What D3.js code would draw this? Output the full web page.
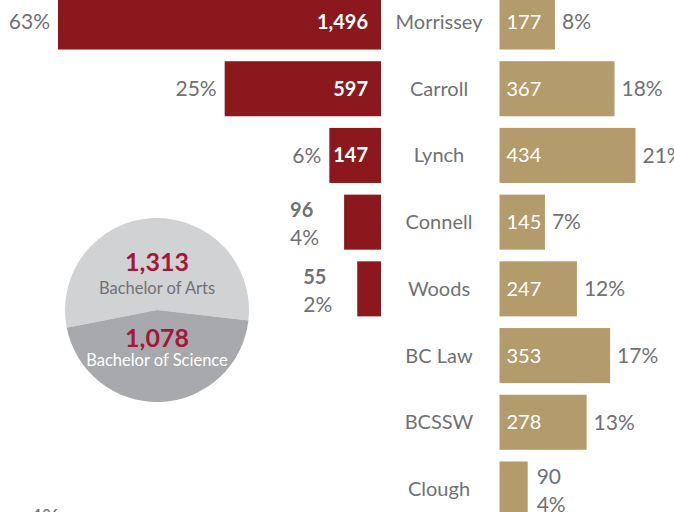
<!DOCTYPE html>
<html>
<head>
<meta charset="utf-8">
<script src="https://cdn.jsdelivr.net/npm/d3@7"></script>
<style>
  body { margin: 0; background: #fff; }
  svg { display: block; font-family: Lato, 'Open Sans', sans-serif; }
</style>
</head>
<body>
<div id="chart"></div>
<script>
// schools (gold bars, right side)
const schoolNames = ['Morrissey', 'Carroll', 'Lynch', 'Connell', 'Woods', 'BC Law', 'BCSSW', 'Clough']
const schoolCounts = [177, 367, 434, 145, 247, 353, 278, 90]
const schoolPcts = [8, 18, 21, 7, 12, 17, 13, 4]

// red bars (left side)
const leftCounts = [1496, 597, 147, 96, 55]
const leftPcts = [63, 25, 6, 4, 2]

// degree pie
const degreeNames = ['Bachelor of Arts', 'Bachelor of Science']
const degreeCounts = [1313, 1078]

const width = 674
const height = 512

const red = '#8b181c'
const gold = '#b39b6b'
const textGray = '#707174'
const crimson = '#a3183a'
const fmt = d3.format(',')

const svg = d3
  .select('#chart')
  .append('svg')
  .attr('width', width)
  .attr('height', height)

const yScale = d3
  .scaleBand()
  .domain(d3.range(schoolNames.length))
  .range([-5.5, 516.5])
  .paddingInner(0.175)
  .paddingOuter(0)

const bw = yScale.bandwidth()
const rowMid = i => yScale(i) + bw / 2

// left red bars, growing leftwards from a shared right edge
const redRight = 381
const redScale = d3.scalePow().exponent(0.79).domain([0, 1496]).range([0, 323])

const leftData = leftCounts.map((c, i) => ({ c, p: leftPcts[i], i }))

const leftG = svg.append('g')
leftG
  .selectAll('rect')
  .data(leftData)
  .join('rect')
  .attr('x', d => redRight - redScale(d.c))
  .attr('y', d => yScale(d.i))
  .attr('width', d => redScale(d.c))
  .attr('height', bw)
  .attr('fill', red)

leftData.forEach(d => {
  const x0 = redRight - redScale(d.c)
  const cy = rowMid(d.i)
  if (redScale(d.c) > 45) {
    leftG
      .append('text')
      .attr('x', redRight - 13)
      .attr('y', cy)
      .attr('dy', '0.35em')
      .attr('text-anchor', 'end')
      .attr('fill', '#fff')
      .attr('font-weight', 'bold')
      .attr('font-size', 20)
      .text(fmt(d.c))
    leftG
      .append('text')
      .attr('x', x0 - 8)
      .attr('y', cy)
      .attr('dy', '0.35em')
      .attr('text-anchor', 'end')
      .attr('fill', textGray)
      .attr('font-size', 21)
      .text(`${d.p}%`)
  } else {
    leftG
      .append('text')
      .attr('x', x0 - 54)
      .attr('y', cy - 12)
      .attr('dy', '0.35em')
      .attr('fill', textGray)
      .attr('font-weight', 'bold')
      .attr('font-size', 20)
      .text(fmt(d.c))
    leftG
      .append('text')
      .attr('x', x0 - 54)
      .attr('y', cy + 15.5)
      .attr('dy', '0.35em')
      .attr('fill', textGray)
      .attr('font-size', 21)
      .text(`${d.p}%`)
  }
})

// school names in the middle column
svg
  .append('g')
  .selectAll('text')
  .data(schoolNames)
  .join('text')
  .attr('x', 439)
  .attr('y', (d, i) => rowMid(i))
  .attr('dy', '0.35em')
  .attr('text-anchor', 'middle')
  .attr('fill', textGray)
  .attr('font-size', 20)
  .text(d => d)

// gold bars
const goldLeft = 499.5
const goldScale = d3.scaleLinear().domain([0, 434]).range([0, 136])
const schoolData = schoolCounts.map((c, i) => ({ c, p: schoolPcts[i], i }))

const rightG = svg.append('g')
rightG
  .selectAll('rect')
  .data(schoolData)
  .join('rect')
  .attr('x', goldLeft)
  .attr('y', d => yScale(d.i))
  .attr('width', d => goldScale(d.c))
  .attr('height', bw)
  .attr('fill', gold)

schoolData.forEach(d => {
  const x1 = goldLeft + goldScale(d.c)
  const cy = rowMid(d.i)
  if (goldScale(d.c) > 40) {
    rightG
      .append('text')
      .attr('x', goldLeft + 7)
      .attr('y', cy)
      .attr('dy', '0.35em')
      .attr('fill', '#fff')
      .attr('font-size', 20)
      .text(fmt(d.c))
    rightG
      .append('text')
      .attr('x', x1 + 7)
      .attr('y', cy)
      .attr('dy', '0.35em')
      .attr('fill', textGray)
      .attr('font-size', 21)
      .text(`${d.p}%`)
  } else {
    rightG
      .append('text')
      .attr('x', x1 + 9)
      .attr('y', cy - 12.5)
      .attr('dy', '0.35em')
      .attr('fill', textGray)
      .attr('font-size', 21)
      .text(fmt(d.c))
    rightG
      .append('text')
      .attr('x', x1 + 9)
      .attr('y', cy + 16)
      .attr('dy', '0.35em')
      .attr('fill', textGray)
      .attr('font-size', 21)
      .text(`${d.p}%`)
  }
})

// degree pie
const pieCx = 157
const pieCy = 310
const pieR = 92
const startA = (-101.2 * Math.PI) / 180
const pie = d3
  .pie()
  .sort(null)
  .startAngle(startA)
  .endAngle(startA + 2 * Math.PI)
const arc = d3.arc().innerRadius(0).outerRadius(pieR)

const pieG = svg.append('g').attr('transform', `translate(${pieCx},${pieCy})`)
pieG
  .selectAll('path')
  .data(pie(degreeCounts))
  .join('path')
  .attr('d', arc)
  .attr('fill', (d, i) => (i === 0 ? '#d1d2d4' : '#a7a9ac'))

const degreeLabelY = [
  [-48, -22],
  [28, 50],
]
degreeNames.forEach((name, i) => {
  pieG
    .append('text')
    .attr('y', degreeLabelY[i][0])
    .attr('dy', '0.35em')
    .attr('text-anchor', 'middle')
    .attr('fill', crimson)
    .attr('font-weight', 'bold')
    .attr('font-size', 25)
    .text(fmt(degreeCounts[i]))
  pieG
    .append('text')
    .attr('y', degreeLabelY[i][1])
    .attr('dy', '0.35em')
    .attr('text-anchor', 'middle')
    .attr('fill', i === 0 ? textGray : '#fff')
    .attr('font-size', 16.5)
    .text(name)
})

// clipped label at the bottom left edge
svg
  .append('text')
  .attr('x', 30)
  .attr('y', 524)
  .attr('fill', textGray)
  .attr('font-size', 21)
  .text('4%')
</script>
</body>
</html>
